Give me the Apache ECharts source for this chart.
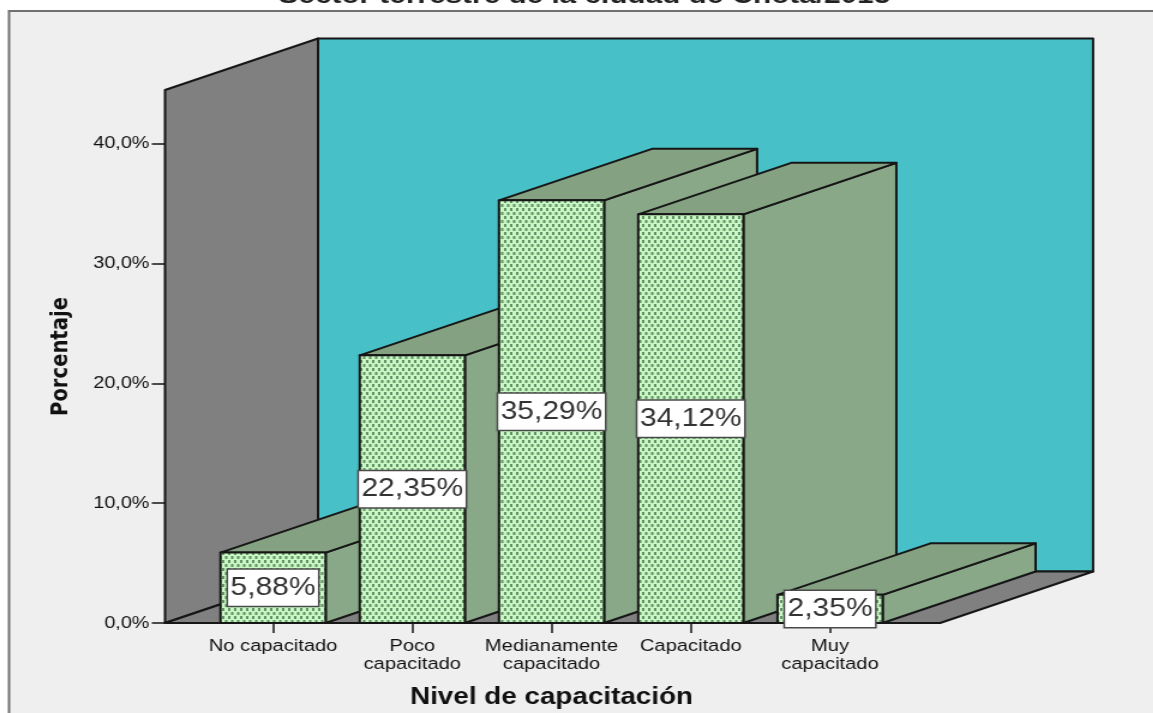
<!DOCTYPE html>
<html>
<head>
<meta charset="utf-8">
<style>
  html, body { margin: 0; padding: 0; background: #fff; overflow: hidden; }
  #chart { width: 961px; height: 713px; transform: scaleX(1.2); transform-origin: 0 0; }
</style>
<script src="https://cdn.jsdelivr.net/npm/echarts@6/dist/echarts.min.js"></script>
</head>
<body>
<div id="chart"></div>
<script>
// Chart values
const categories = ['No capacitado', 'Poco\ncapacitado', 'Medianamente\ncapacitado', 'Capacitado', 'Muy\ncapacitado'];
const percentages = [5.88, 22.35, 35.29, 34.12, 2.35];
const yTicks = [0, 10, 20, 30, 40];
const titleText = 'Sector terrestre de la ciudad de Chota/2015';
const xTitle = 'Nivel de capacitación';
const yTitle = 'Porcentaje';

// 3D projection settings
const WALL_TOP = 44.5;
const DEPTH_X = 127.5;
const DEPTH_Y = -51.5;
const FLOOR_LEFT = 32;
const FLOOR_RIGHT = 33.7;
const BAR_RATIO = 0.755;
const OUTLINE = '#161616';

const comma = (v, digits) => v.toFixed(digits).replace('.', ',') + '%';

// Dotted fill used on the front of every bar
function dotTile() {
  const c = document.createElement('canvas');
  c.width = 5; c.height = 8;
  const g = c.getContext('2d');
  g.fillStyle = '#c9f8c3';
  g.fillRect(0, 0, 5, 8);
  g.fillStyle = '#639069';
  g.fillRect(0, 0, 2, 3);
  g.fillRect(2.5, 4, 2, 3);
  return c;
}
const dots = { image: dotTile(), repeat: 'repeat' };

function poly(points, fill) {
  return { type: 'polygon', shape: { points }, style: { fill, stroke: OUTLINE, lineWidth: 2, lineJoin: 'round' } };
}

// Back wall, side wall and floor of the box
function renderBox(params, api) {
  const sys = params.coordSys;
  const y0 = api.coord([0, 0])[1];
  const yT = api.coord([0, WALL_TOP])[1];
  const L = sys.x - FLOOR_LEFT;
  const R = sys.x + sys.width + FLOOR_RIGHT;
  return {
    type: 'group',
    children: [
      poly([[L + DEPTH_X, yT + DEPTH_Y], [R + DEPTH_X, yT + DEPTH_Y], [R + DEPTH_X, y0 + DEPTH_Y], [L + DEPTH_X, y0 + DEPTH_Y]], '#47c1c7'),
      poly([[L, y0], [L, yT], [L + DEPTH_X, yT + DEPTH_Y], [L + DEPTH_X, y0 + DEPTH_Y]], '#808080'),
      poly([[L, y0], [L + DEPTH_X, y0 + DEPTH_Y], [R + DEPTH_X, y0 + DEPTH_Y], [R, y0]], '#808080')
    ]
  };
}

// One extruded bar: side, top, then dotted front
function renderBar(params, api) {
  const top = api.coord([api.value(0), api.value(1)]);
  const y0 = api.coord([api.value(0), 0])[1];
  const w = api.size([1, 0])[0] * BAR_RATIO;
  const a = top[0] - w / 2, b = top[0] + w / 2, y = top[1];
  return {
    type: 'group',
    children: [
      poly([[b, y], [b + DEPTH_X, y + DEPTH_Y], [b + DEPTH_X, y0 + DEPTH_Y], [b, y0]], '#88a888'),
      poly([[a, y], [a + DEPTH_X, y + DEPTH_Y], [b + DEPTH_X, y + DEPTH_Y], [b, y]], '#84a282'),
      poly([[a, y], [b, y], [b, y0], [a, y0]], dots)
    ]
  };
}

// White value tag centred on the bar's front face
function renderTag(params, api) {
  const top = api.coord([api.value(0), api.value(1)]);
  const y0 = api.coord([api.value(0), 0])[1];
  return {
    type: 'text',
    x: top[0],
    y: (top[1] + y0) / 2,
    style: {
      text: comma(api.value(1), 2),
      font: '25px "Liberation Sans", Arial, sans-serif',
      fill: '#333',
      align: 'center',
      verticalAlign: 'middle',
      backgroundColor: '#fff',
      borderColor: '#4a4a4a',
      borderWidth: 1.5,
      padding: [9, 2, 2, 2]
    }
  };
}

const chart = echarts.init(document.getElementById('chart'), null, { renderer: 'canvas' });
const barData = percentages.map((v, i) => [i, v]);

chart.setOption({
  animation: false,
  backgroundColor: '#fff',
  textStyle: { fontFamily: '"Liberation Sans", Arial, sans-serif' },
  graphic: [
    {
      type: 'rect', z: 0,
      shape: { x: 7.5, y: 11, width: 1000, height: 760 },
      style: { fill: '#efefef', stroke: '#707070', lineWidth: 2 }
    },
    {
      type: 'text', z: 0, x: 487, y: -16,
      style: { text: titleText, font: 'bold 24.8px "Liberation Sans", Arial, sans-serif', fill: '#222', align: 'center' }
    }
  ],
  grid: { left: 169.5, top: 90, width: 580.2, height: 533, outerBoundsMode: 'none' },
  xAxis: {
    type: 'category',
    data: categories,
    name: xTitle,
    nameLocation: 'middle',
    nameGap: 75,
    nameTextStyle: { fontSize: 23.2, fontWeight: 'bold', color: '#111', verticalAlign: 'middle' },
    axisLine: { show: false },
    axisTick: { show: true, alignWithLabel: true, length: 10, lineStyle: { color: OUTLINE, width: 1.5 } },
    axisLabel: { interval: 0, margin: 14, fontSize: 16.8, lineHeight: 18, color: '#111' }
  },
  yAxis: {
    type: 'value',
    min: 0,
    max: WALL_TOP,
    offset: FLOOR_LEFT,
    name: yTitle,
    nameLocation: 'middle',
    nameGap: 87,
    nameTextStyle: { fontSize: 19.6, fontFamily: '"DejaVu Sans", sans-serif', fontWeight: 'bold', color: '#111', verticalAlign: 'middle' },
    splitLine: { show: false },
    axisLine: { show: true, lineStyle: { color: OUTLINE, width: 2 } },
    axisTick: { show: true, length: 11, customValues: yTicks, lineStyle: { color: OUTLINE, width: 1.5 } },
    axisLabel: { margin: 13, fontSize: 16.5, color: '#111', padding: [7, 0, 0, 0], customValues: yTicks, formatter: v => comma(v, 1) }
  },
  series: [
    { type: 'custom', name: 'Caja', z: 2, data: [[0, 0]], encode: { x: 0, y: 1 }, renderItem: renderBox, silent: true },
    { type: 'custom', name: 'Porcentaje', z: 3, data: barData, encode: { x: 0, y: 1 }, renderItem: renderBar },
    { type: 'custom', name: 'Etiquetas', z: 4, data: barData, encode: { x: 0, y: 1 }, renderItem: renderTag, silent: true }
  ]
});
</script>
</body>
</html>
